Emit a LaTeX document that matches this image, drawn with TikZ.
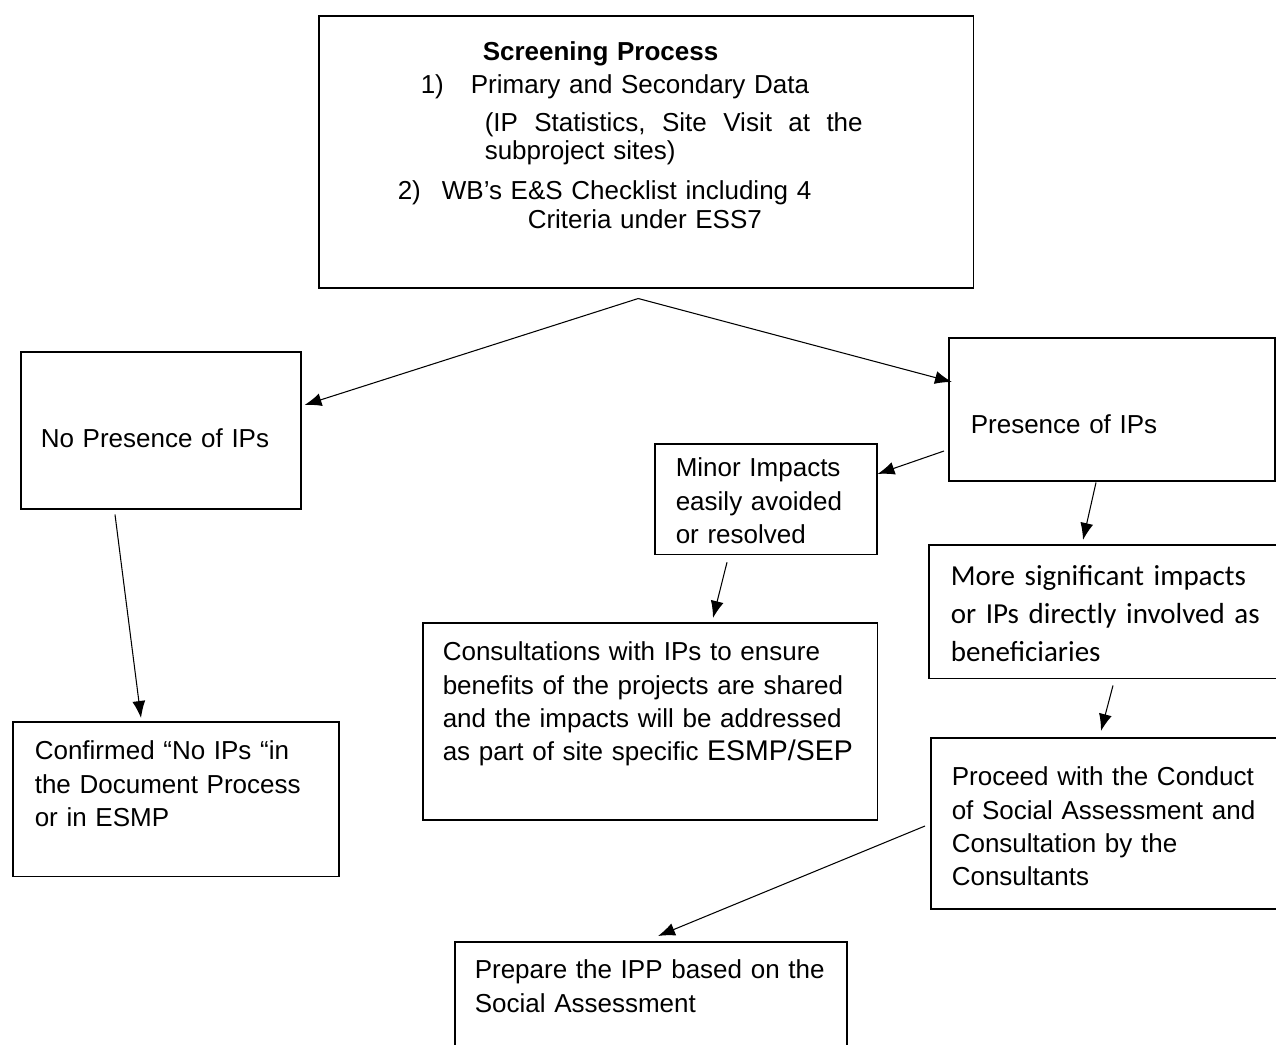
\documentclass[tikz,border=0pt]{standalone}
\usepackage{fontspec}
\setmainfont{Liberation Sans}
\newfontfamily\calibri{Carlito}
\usetikzlibrary{arrows.meta}
\newcommand{\topsp}[1]{\rule{0pt}{#1}}
\newcommand{\botsp}[1]{\rule[-#1]{0pt}{0pt}}
\newcommand{\bodyfont}{\fontsize{14.8}{19}\selectfont}
\tikzset{
    box/.style = {draw, line width=0.9pt, anchor=north west, align=left, inner ysep=0pt},
    link/.style = {-{Latex[length=0.34cm,width=0.26cm]}, line width=0.6pt}}
\begin{document}
\begin{tikzpicture}[x=0.02cm, y=-0.02cm]
    \useasboundingbox (0,0) rectangle (1276,1045);
    \clip (0,0) rectangle (1276,1045);
    % screening step
    \node[box, font=\fontsize{14.8}{16.5}\selectfont, inner xsep=1.58cm, text width=9.94cm] (scr) at (318,15)
        {\topsp{0.9cm}\hspace*{1.7cm}\textbf{Screening Process}\\[0.08cm]
         \hspace*{0.46cm}1)\hspace*{0.54cm}Primary and Secondary Data\\[0.18cm]
         \hspace*{1.74cm}\hbox to 7.56cm{(IP\hfill Statistics,\hfill Site\hfill Visit\hfill at\hfill the}\\[-0.02cm]
         \hspace*{1.74cm}subproject sites)\\[0.22cm]
         2)\hspace*{0.42cm}WB’s E\&S Checklist including 4\\
         \hspace*{2.6cm}Criteria under ESS7\botsp{1.18cm}};
    % left branch
    \node[box, font=\bodyfont, inner xsep=0.4cm, text width=4.8cm] (noip) at (20,351)
        {\topsp{1.92cm}No Presence of IPs\botsp{1.22cm}};
    \node[box, font=\bodyfont, inner xsep=0.44cm, text width=5.64cm] (conf) at (12,721)
        {\topsp{0.76cm}Confirmed “No IPs “in\\ the Document Process\\ or in ESMP\botsp{1.0cm}};
    % right branch
    \node[box, font=\bodyfont, inner xsep=0.44cm, text width=5.64cm] (pres) at (948,337)
        {\topsp{1.92cm}Presence of IPs\botsp{0.94cm}};
    \node[box, font=\bodyfont, inner xsep=0.42cm, text width=3.6cm] (minor) at (654,443)
        {\topsp{0.66cm}Minor Impacts\\ easily avoided\\ or resolved\botsp{0.22cm}};
    \node[box, font=\bodyfont, inner xsep=0.4cm, text width=8.3cm] (cons) at (422,622)
        {\topsp{0.76cm}Consultations with IPs to ensure\\ benefits of the projects are shared\\
         and the impacts will be addressed\\
         as part of site specific {\fontsize{16.2}{19}\selectfont ESMP/SEP}\botsp{1.18cm}};
    \node[box, font=\calibri\fontsize{16.5}{21.6}\selectfont, inner xsep=0.44cm, text width=6.36cm] (more) at (928,544)
        {\topsp{0.82cm}More significant impacts\\ or IPs directly involved as\\ beneficiaries\botsp{0.34cm}};
    \node[box, font=\bodyfont, inner xsep=0.42cm, text width=6.36cm] (proc) at (930,737)
        {\topsp{0.96cm}Proceed with the Conduct\\ of Social Assessment and\\ Consultation by the\\ Consultants\botsp{0.46cm}};
    \node[box, font=\bodyfont, inner xsep=0.4cm, text width=7.04cm] (ipp) at (454,941)
        {\topsp{0.74cm}Prepare the IPP based on the\\ Social Assessment\botsp{1.18cm}};
    % connectors
    \coordinate (fork) at ([shift={(-8,10)}]scr.south);
    \draw[link] (fork) -- ([shift={(3,54)}]noip.north east);
    \draw[link] (fork) -- ([shift={(4,45)}]pres.north west);
    \draw[link] ([shift={(-4,114)}]pres.north west) -- ([shift={(0,31)}]minor.north east);
    \draw[link] ([shift={(148,1)}]pres.south west) -- ([shift={(155,-4)}]more.north west);
    \draw[link] ([shift={(73,7)}]minor.south west) -- ([shift={(291,-4)}]cons.north west);
    \draw[link] ([shift={(95,5)}]noip.south west) -- ([shift={(129,-3)}]conf.north west);
    \draw[link] ([shift={(185,6)}]more.south west) -- ([shift={(171,-6)}]proc.north west);
    \draw[link] ([shift={(-5,89)}]proc.north west) -- ([shift={(204,-5)}]ipp.north west);
\end{tikzpicture}
\end{document}
